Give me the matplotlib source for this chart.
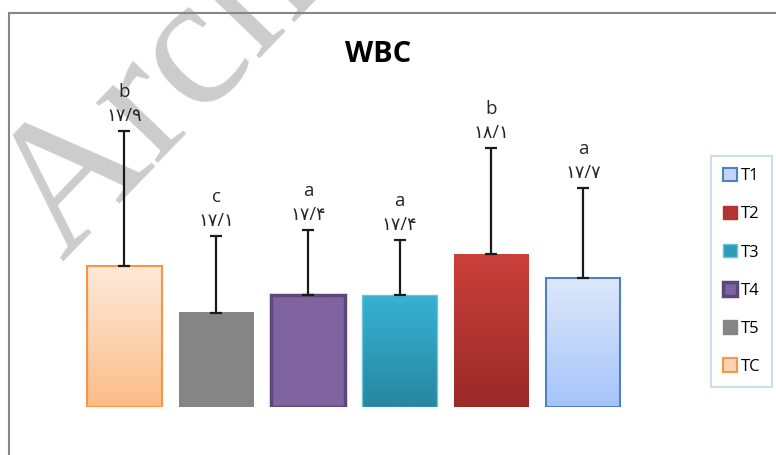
import matplotlib
matplotlib.use("Agg")
import matplotlib.pyplot as plt
import numpy as np
from matplotlib.colors import to_rgb
from matplotlib.patches import Patch, Rectangle

# WBC values per treatment, left to right as drawn
groups = ["TC", "T5", "T4", "T3", "T2", "T1"]
means = [17.9, 17.1, 17.4, 17.4, 18.1, 17.7]
errs = [2.29, 1.31, 1.11, 0.94, 1.80, 1.52]
letters = ["b", "c", "a", "a", "b", "a"]

# legend order (as in the source chart)
legend_order = ["T1", "T2", "T3", "T4", "T5", "TC"]

# gradient top / bottom, edge colour, edge width
styles = {
    "TC": ("#fee9da", "#fcbd88", "#f79646", 1.5),
    "T5": ("#858585", "#858585", "none", 0),
    "T4": ("#8064a2", "#8064a2", "#5c4776", 2.5),
    "T3": ("#37b1d3", "#27879f", "#6cc3dc", 1.0),
    "T2": ("#cb403c", "#9a2a28", "none", 0),
    "T1": ("#dde8fb", "#a6c4fa", "#4f81bd", 1.5),
}

persian = str.maketrans("0123456789.", "۰۱۲۳۴۵۶۷۸۹/")
num_labels = [f"{m:.1f}".translate(persian) for m in means]

W, H = 776, 455
fig = plt.figure(figsize=(W / 100, H / 100), dpi=100)
fig.patch.set_facecolor("white")

ymin = 15.5
ymax = ymin + (407 - 60) * 0.017
ax = fig.add_axes([60.3 / W, (H - 407) / H, (647.2 - 60.3) / W, (407 - 60) / H])
ax.axis("off")

x = np.arange(len(groups))
width = 0.81
bars = ax.bar(x, [m - ymin for m in means], width, bottom=ymin,
              facecolor="none", edgecolor="none", zorder=3)

for rect, g in zip(bars, groups):
    top, bot, ec, lw = styles[g]
    grad = np.linspace(to_rgb(top), to_rgb(bot), 64).reshape(64, 1, 3)
    x0 = rect.get_x()
    x1 = x0 + rect.get_width()
    y0 = rect.get_y()
    y1 = y0 + rect.get_height()
    ax.imshow(grad, extent=[x0, x1, y0, y1], aspect="auto",
              origin="upper", zorder=2, interpolation="bilinear")
    rect.set_edgecolor(ec)
    rect.set_linewidth(lw)

ax.errorbar(x, means, yerr=[np.zeros(len(errs)), errs], fmt="none",
            ecolor="#1a1a1a", elinewidth=1.6, capsize=4.5, capthick=1.6,
            zorder=4)

for xi, m, e, let, lab in zip(x, means, errs, letters, num_labels):
    ax.annotate(lab, (xi, m + e), xytext=(0, 11), textcoords="offset points",
                ha="center", va="center", fontsize=13, color="#262626",
                family=["Open Sans", "DejaVu Sans"])
    ax.annotate(let, (xi, m + e), xytext=(0, 28), textcoords="offset points",
                ha="center", va="center", fontsize=13.5, color="#262626",
                family=["Open Sans", "DejaVu Sans"])

ax.set_xlim(-0.7, 5.7)
ax.set_ylim(ymin, ymax)

fig.text(378 / W, 1 - 54 / H, "WBC", ha="center", va="center",
         fontsize=21, fontweight="bold", family="Open Sans")

handles = []
for g in legend_order:
    top, bot, ec, lw = styles[g]
    fc = np.mean([to_rgb(top), to_rgb(bot)], axis=0)
    handles.append(Patch(facecolor=fc, edgecolor=ec if ec != "none" else fc,
                         linewidth=max(lw, 1.0), label=g))
leg = fig.legend(handles=handles, loc="upper left",
                 bbox_to_anchor=(711 / W, 1 - 156 / H), borderaxespad=0,
                 fontsize=12, labelspacing=1.3, handlelength=0.85,
                 handleheight=0.85, handletextpad=0.2, borderpad=0.72,
                 fancybox=False, frameon=True)
leg.get_frame().set_edgecolor("#c3d4ec")
leg.get_frame().set_linewidth(1.5)
for t in leg.get_texts():
    t.set_family("Open Sans")

# watermark
fig.text(62 / W, 1 - 262 / H, "Archive", rotation=46, rotation_mode="anchor",
         ha="left", va="baseline", fontsize=135, family="Liberation Serif",
         color="#cccccc", zorder=-2)

# outer chart border
fig.patches.append(Rectangle((9 / W, -0.1), 1.2, 1 - 13 / H + 0.1,
                             transform=fig.transFigure, fill=False,
                             edgecolor="#868686", linewidth=1.5, zorder=-1))

fig.savefig("out.png", dpi=100)
